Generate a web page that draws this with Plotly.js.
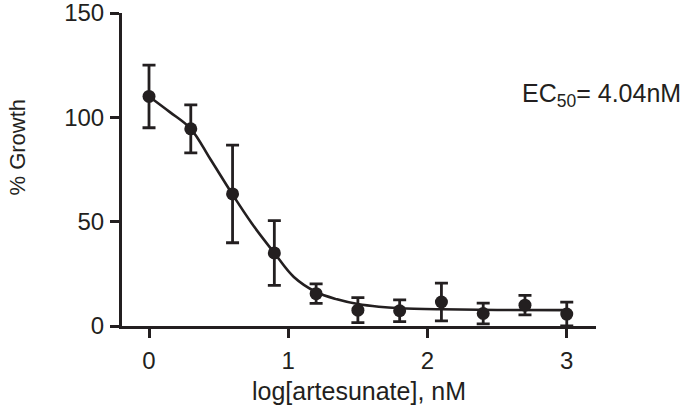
<!DOCTYPE html>
<html>
<head>
<meta charset="utf-8">
<script src="https://cdn.plot.ly/plotly-3.0.1.min.js"></script>
<style>html,body{margin:0;padding:0;background:#fff;}#chart{width:684px;height:405px;}</style>
</head>
<body>
<div id="chart"></div>
<script>
// Data
const logConc = [0, 0.3, 0.6, 0.9, 1.2, 1.5, 1.8, 2.1, 2.4, 2.7, 3.0];
const growthMean = [110, 94.5, 63.3, 35, 15.5, 7.6, 7.3, 11.5, 6, 10, 5.7];
const growthErr = [15, 11.5, 23.4, 15.5, 4.7, 6, 5.2, 9, 5, 4.7, 5.7];
// fitted curve
const fitX = [0, 0.15, 0.3, 0.44, 0.6, 0.74, 0.9, 1.04, 1.2, 1.35, 1.5, 1.65, 1.8, 2.1, 2.5, 3.0];
const fitY = [110, 102.5, 94.5, 80, 63, 49, 35, 23.5, 16.3, 12.8, 10.5, 9.2, 8.5, 8.0, 7.7, 7.6];
const xTicks = [0, 1, 2, 3];
const yTicks = [0, 50, 100, 150];
const ec50Label = 'EC<sub>50</sub>= 4.04nM';
const xTitle = 'log[artesunate], nM';
const yTitle = '% Growth';

const ink = '#231f20';
const font = 'Liberation Sans, Arial, Helvetica, sans-serif';

const traces = [
  {
    x: fitX, y: fitY, type: 'scatter', mode: 'lines',
    line: {color: ink, width: 2.6, shape: 'spline', smoothing: 1},
    hoverinfo: 'skip', showlegend: false
  },
  {
    x: logConc, y: growthMean, type: 'scatter', mode: 'markers',
    marker: {color: ink, size: 13, symbol: 'circle'},
    error_y: {type: 'data', array: growthErr, visible: true, color: ink, thickness: 2.8, width: 6.5},
    showlegend: false
  }
];

const L = 122, R = 596, T = 13, B = 326;
const W = R - L, H = B - T;
const layout = {
  width: 684, height: 405,
  margin: {l: L, r: 684 - R, t: T, b: 405 - B, pad: 0},
  paper_bgcolor: '#fff', plot_bgcolor: '#fff',
  showlegend: false,
  font: {family: font, color: ink, size: 24},
  xaxis: {
    range: [-0.194, 3.21], tickvals: xTicks, ticktext: xTicks.map(String),
    showgrid: false, zeroline: false, showline: true, linecolor: ink, linewidth: 3,
    ticks: 'outside', ticklen: 9, tickwidth: 3, tickcolor: ink,
    tickfont: {family: font, size: 24, color: ink}, ticklabelstandoff: 2,
    ticklabeloverflow: 'allow'
  },
  yaxis: {
    range: [0, 150], tickvals: yTicks, ticktext: yTicks.map(String),
    showgrid: false, zeroline: false, showline: true, linecolor: ink, linewidth: 3,
    ticks: 'outside', ticklen: 9, tickwidth: 3, tickcolor: ink,
    tickfont: {family: font, size: 24, color: ink}, ticklabelstandoff: 1,
    ticklabeloverflow: 'allow'
  },
  annotations: [
    {text: ec50Label, xref: 'paper', yref: 'paper', x: (683 - L) / W, y: (B - 95) / H,
     xanchor: 'right', yanchor: 'middle', showarrow: false,
     font: {family: font, size: 25, color: ink}},
    {text: xTitle, xref: 'paper', yref: 'paper', x: (359 - L) / W, y: (B - 391) / H,
     xanchor: 'center', yanchor: 'middle', showarrow: false,
     font: {family: font, size: 25, color: ink}},
    {text: yTitle, xref: 'paper', yref: 'paper', x: (17 - L) / W, y: (B - 147.5) / H,
     xanchor: 'center', yanchor: 'middle', showarrow: false, textangle: -90,
     font: {family: font, size: 22, color: ink}}
  ]
};

Plotly.newPlot('chart', traces, layout, {staticPlot: true, displayModeBar: false});
</script>
</body>
</html>
